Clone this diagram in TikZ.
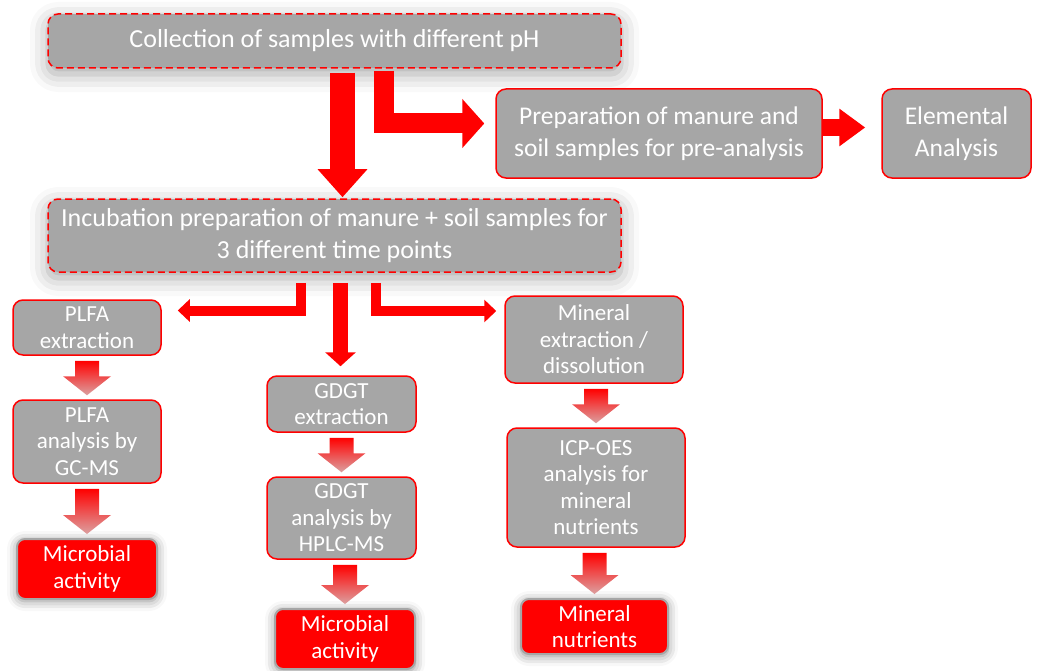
\documentclass[tikz,border=0pt]{standalone}
\usepackage{fontspec}
\setmainfont{Carlito}
\usetikzlibrary{arrows.meta,calc,shadows.blur}

\definecolor{boxgrey}{RGB}{166,166,166}
\definecolor{flowred}{RGB}{255,0,0}
\definecolor{fadeend}{RGB}{220,160,160}

\tikzset{
  greybox/.style={draw=flowred, fill=boxgrey, line width=1.5pt, rounded corners=10pt,
    text=white, align=center, inner sep=0pt, font=\fontsize{23}{26.5}\selectfont},
  dashbox/.style={greybox, dash pattern=on 7pt off 4pt, font=\fontsize{26}{32}\selectfont,
    blur shadow={shadow xshift=0pt, shadow yshift=-6pt, shadow blur radius=18pt, shadow opacity=35}},
  bigbox/.style={greybox, font=\fontsize{25.5}{32}\selectfont},
  redbox/.style={greybox, draw=boxgrey, fill=flowred, line width=2pt, rounded corners=8pt,
    blur shadow={shadow xshift=0pt, shadow yshift=-2pt, shadow blur radius=10pt, shadow opacity=45}},
  blockarr/.style={draw=flowred, line width=#1},
  fadearr/.style={shading=axis, top color=flowred, bottom color=fadeend},
}

%% shaded block arrow from one box down to the next
\newcommand{\fadearrow}[2]{%
  \path[fadearr] ($(#1.south -| #2.north)+(-12,5)$) -- ($(#1.south -| #2.north)+(12,5)$)
    -- ($(#2.north)+(12,-23)$) -- ($(#2.north)+(24,-23)$) -- ($(#2.north)+(0,-4)$)
    -- ($(#2.north)+(-24,-23)$) -- ($(#2.north)+(-12,-23)$) -- cycle;}

\begin{document}
\begin{tikzpicture}[x=1pt,y=-1pt]
\useasboundingbox (0,0) rectangle (1040,671);

%% main boxes
\node[dashbox, minimum width=573pt, minimum height=54pt] (coll) at (334.5,41) {Collection of samples with different pH};
\node[bigbox, minimum width=326pt, minimum height=89pt] (prep) at (659,133.5) {Preparation of manure and\\soil samples for pre-analysis};
\node[bigbox, minimum width=149pt, minimum height=89pt] (elem) at (956.5,133.5) {Elemental\\Analysis};
\node[dashbox, minimum width=573pt, minimum height=73pt] (incub) at (334.5,235.5) {Incubation preparation of manure + soil samples for\\3 different time points};

%% PLFA column
\node[greybox, minimum width=148pt, minimum height=55pt] (plfaA) at (87,327.5) {PLFA\\extraction};
\node[greybox, minimum width=148pt, minimum height=83pt] (plfaB) at (87,441.5) {PLFA\\analysis by\\GC-MS};
\node[redbox, minimum width=140pt, minimum height=60pt] (micA) at (87,569) {Microbial\\activity};

%% GDGT column
\node[greybox, minimum width=149pt, minimum height=56pt] (gdgtA) at (341.5,404) {GDGT\\extraction};
\node[greybox, minimum width=149pt, minimum height=82pt] (gdgtB) at (341.5,518) {GDGT\\analysis by\\HPLC-MS};
\node[redbox, minimum width=140pt, minimum height=60pt] (micB) at (345,639) {Microbial\\activity};

%% mineral column
\node[greybox, minimum width=178pt, minimum height=87pt] (minA) at (594,339.5) {Mineral\\extraction /\\dissolution};
\node[greybox, minimum width=178pt, minimum height=119pt] (minB) at (596,487.5) {ICP-OES\\analysis for\\mineral\\nutrients};
\node[redbox, minimum width=147pt, minimum height=55pt] (minC) at (594.5,626.5) {Mineral\\nutrients};

%% red block arrows
\draw[blockarr=25pt, -{Triangle[width=48pt,length=28pt]}] ($(coll.south)+(8,4)$) -- ($(incub.north)+(8,-1)$);   %% coll-incub
\draw[blockarr=20pt, -{Triangle[width=48pt,length=22pt]}] ($(coll.south)+(49,2)$) |- ($(prep.west)+(-11,-10)$);   %% coll-prep
\draw[blockarr=17pt, -{Triangle[width=36pt,length=26pt]}] ($(prep.east)+(0,-6)$) -- ($(elem.west)+(-16,-6)$);   %% prep-elem
\draw[blockarr=10pt, -{Triangle[width=22pt,length=12pt]}] ($(incub.south)+(-34,10)$) |- ($(plfaA.east)+(16,-17)$);   %% incub-plfa
\draw[blockarr=15pt, -{Triangle[width=30pt,length=14pt]}] ($(incub.south)+(6,10)$) -- ($(incub.south |- gdgtA.north)+(6,-9)$);   %% incub-gdgt
\draw[blockarr=10pt, -{Triangle[width=22pt,length=12pt]}] ($(incub.south)+(41,10)$) |- ($(minA.west)+(-8,-28.5)$);   %% incub-min

%% shaded arrows
\fadearrow{plfaA}{plfaB}
\fadearrow{plfaB}{micA}
\fadearrow{gdgtA}{gdgtB}
\fadearrow{gdgtB}{micB}
\fadearrow{minA}{minB}
\fadearrow{minB}{minC}
\end{tikzpicture}
\end{document}
